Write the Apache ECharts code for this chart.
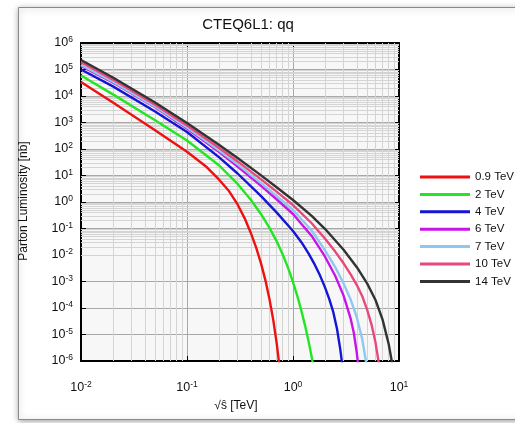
<!DOCTYPE html>
<html>
<head>
<meta charset="utf-8">
<script src="https://cdn.jsdelivr.net/npm/echarts@6/dist/echarts.min.js"></script>
<style>html,body{margin:0;padding:0;background:#fff}#c{width:515px;height:423px}</style>
</head>
<body>
<div id="c"></div>
<script>
// ---- data ----
const seriesNames = ['0.9 TeV', '2 TeV', '4 TeV', '6 TeV', '7 TeV', '10 TeV', '14 TeV'];
const seriesColors = ['#ee1111', '#22e622', '#1515d5', '#c814e6', '#8ec8f0', '#e8487a', '#333333'];

const x09 = [0.01, 0.02, 0.05, 0.1, 0.15, 0.2, 0.25, 0.3, 0.35, 0.4, 0.45, 0.5, 0.55, 0.6, 0.65, 0.7, 0.75];
const y09 = [3.39e4, 5.66e3, 513, 78.9, 22.4, 7.1, 2.54, 0.807, 0.242, 0.068, 0.0186, 4.73e-3, 1.08e-3, 2.16e-4, 3.7e-5, 5.0e-6, 5.1e-7];

const x2 = [0.01, 0.02, 0.05, 0.1, 0.2, 0.3, 0.4, 0.5, 0.6, 0.7, 0.8, 0.9, 1.0, 1.1, 1.2, 1.3, 1.4, 1.5, 1.6];
const y2 = [5.96e4, 1.15e4, 1.22e3, 208, 24.4, 4.82, 1.21, 0.347, 0.106, 0.0334, 0.01045, 3.21e-3, 9.5e-4, 2.77e-4, 7.8e-5, 2.17e-5, 5.7e-6, 1.44e-6, 3.3e-7];

const x4 = [0.01, 0.02, 0.05, 0.1, 0.2, 0.3, 0.5, 0.7, 1, 1.2, 1.4, 1.6, 1.8, 2.0, 2.2, 2.4, 2.6, 2.8, 3.0];
const y4 = [1.0e5, 2.31e4, 2.6e3, 437, 49.2, 11.9, 1.66, 0.405, 0.08, 0.0304, 0.0115, 4.4e-3, 1.67e-3, 6.15e-4, 2.16e-4, 6.97e-5, 1.65e-5, 2.58e-6, 2.83e-7];

const x6 = [0.01, 0.02, 0.05, 0.1, 0.2, 0.3, 0.5, 0.7, 1, 1.5, 2, 2.5, 3, 3.5, 3.75, 4, 4.2];
const y6 = [1.36e5, 3.27e4, 3.75e3, 592, 78, 21.9, 4.05, 1.27, 0.352, 0.0524, 8.8e-3, 1.65e-3, 2.93e-4, 3.94e-5, 1.14e-5, 2.0e-6, 3.6e-7];

const x7 = [0.01, 0.02, 0.05, 0.1, 0.2, 0.3, 0.5, 0.7, 1, 1.5, 2, 2.5, 3, 3.5, 4, 4.5, 5];
const y7 = [1.48e5, 3.46e4, 3.98e3, 646, 89.6, 26.2, 5.17, 1.69, 0.498, 0.0838, 0.0153, 3.5e-3, 8.5e-4, 2.06e-4, 4.4e-5, 6.7e-6, 5.3e-7];

const x10 = [0.01, 0.02, 0.05, 0.1, 0.2, 0.3, 0.5, 0.7, 1, 1.5, 2, 2.5, 3, 3.5, 4, 4.5, 5, 5.5, 6, 6.5];
const y10 = [1.875e5, 4.16e4, 4.67e3, 769, 111, 34, 7.13, 2.46, 0.767, 0.158, 0.042, 0.01346, 4.86e-3, 1.87e-3, 7.35e-4, 2.79e-4, 8.75e-5, 2.42e-5, 5.05e-6, 6.8e-7];

const x14 = [0.01, 0.02, 0.05, 0.1, 0.2, 0.3, 0.5, 0.7, 1, 1.5, 2, 3, 4, 5, 6, 7, 8, 8.5, 9];
const y14 = [2.29e5, 5.0e4, 5.64e3, 955, 145, 45.6, 10.1, 3.62, 1.19, 0.299, 0.0977, 0.0158, 3.47e-3, 8.5e-4, 2.0e-4, 3.63e-5, 4.27e-6, 1.12e-6, 2.0e-7];

const seriesX = [x09, x2, x4, x6, x7, x10, x14];
const seriesY = [y09, y2, y4, y6, y7, y10, y14];

// axis ranges / gridline positions
const xMin = 0.01, xMax = 10;
const yMin = 1e-6, yMax = 1e6;
const minorFactors = [2, 3, 4, 5, 6, 7, 8, 9];
const xDecades = [-2, -1, 0];
const yDecades = [-6, -5, -4, -3, -2, -1, 0, 1, 2, 3, 4, 5];

const minorX = [];
xDecades.forEach(e => minorFactors.forEach(f => minorX.push(+(f * Math.pow(10, e)).toPrecision(3))));
const minorY = [];
yDecades.forEach(e => minorFactors.forEach(f => minorY.push(+(f * Math.pow(10, e)).toPrecision(3))));

// ---- chart ----
const chart = echarts.init(document.getElementById('c'), null, {renderer: 'canvas'});
const FONT = '"Liberation Sans", Arial, Helvetica, sans-serif';

function expLabel(v) {
  const e = Math.round(Math.log10(v));
  return '{b|10}{s|' + e + '}';
}
const rich = {
  b: {fontSize: 12.5, color: '#111', fontFamily: FONT, lineHeight: 15},
  s: {fontSize: 8.5, color: '#111', fontFamily: FONT, lineHeight: 9, verticalAlign: 'top'}
};

const axisCommonX = {
  type: 'log', logBase: 10, min: xMin, max: xMax, interval: 1,
  axisLine: {show: true, lineStyle: {color: '#000', width: 2}},
  axisTick: {show: true, inside: true, length: 5, lineStyle: {color: '#000', width: 1}}
};
const axisCommonY = {
  type: 'log', logBase: 10, min: yMin, max: yMax, interval: 1, splitNumber: 12,
  axisLine: {show: true, lineStyle: {color: '#000', width: 2}},
  axisTick: {show: true, inside: true, length: 5, lineStyle: {color: '#000', width: 1}}
};

const series = [{
  type: 'line', data: [], z: 1, silent: true,
  xAxisIndex: 0, yAxisIndex: 0,
  markLine: {
    silent: true, symbol: 'none', animation: false, z: 1,
    label: {show: false},
    lineStyle: {color: '#d4d4d4', width: 1, type: 'solid'},
    emphasis: {disabled: true},
    data: minorX.map(v => ({xAxis: v})).concat(minorY.map(v => ({yAxis: v})))
  }
}];
seriesNames.forEach((n, i) => {
  series.push({
    name: n, type: 'line', xAxisIndex: 0, yAxisIndex: 0,
    symbol: 'none', showSymbol: false, clip: true, z: 6,
    lineStyle: {color: seriesColors[i], width: 2.4, join: 'round'},
    itemStyle: {color: seriesColors[i]},
    data: seriesX[i].map((x, j) => [x, seriesY[i][j]])
  });
});

chart.setOption({
  animation: false,
  backgroundColor: '#fff',
  grid: {left: 81, top: 43, right: 116, bottom: 62, show: true, backgroundColor: '#f7f7f7', borderWidth: 0},
  xAxis: [
    Object.assign({}, axisCommonX, {
      position: 'bottom',
      splitLine: {show: true, lineStyle: {color: '#a8a8a8', width: 1}},
      axisLabel: {formatter: expLabel, rich: rich, margin: 19}
    }),
    Object.assign({}, axisCommonX, {
      position: 'top', axisLabel: {show: false}, splitLine: {show: false}
    })
  ],
  yAxis: [
    Object.assign({}, axisCommonY, {
      position: 'left',
      splitLine: {show: true, lineStyle: {color: '#a8a8a8', width: 1}},
      axisLabel: {formatter: expLabel, rich: rich, margin: 8}
    }),
    Object.assign({}, axisCommonY, {
      position: 'right', axisLabel: {show: false}, splitLine: {show: false}
    })
  ],
  legend: {
    data: seriesNames,
    orient: 'vertical', left: 415, top: 165,
    icon: 'rect',
    itemWidth: 50, itemHeight: 3, itemGap: 3.4,
    textStyle: {fontSize: 11.5, lineHeight: 14, color: '#111', fontFamily: FONT, padding: [0, 0, 0, 0]},
    selectedMode: false
  },
  graphic: {elements: [
    {type: 'rect', z: -100, silent: true,
     shape: {x: 18.5, y: 7.5, width: 530, height: 412},
     style: {fill: '#fff', stroke: '#8a8a8a', lineWidth: 1, shadowBlur: 6, shadowColor: 'rgba(0,0,0,0.35)', shadowOffsetY: 1}},
    {type: 'text', silent: true, x: 248, y: 25,
     style: {text: 'CTEQ6L1: qq', fontSize: 15, fontFamily: FONT, fill: '#111', align: 'center', verticalAlign: 'middle'}},
    {type: 'text', silent: true, x: 236, y: 406,
     style: {text: '√ŝ [TeV]', fontSize: 12, fontFamily: FONT, fill: '#111', align: 'center', verticalAlign: 'middle'}},
    {type: 'text', silent: true, x: 24, y: 201, rotation: Math.PI / 2,
     style: {text: 'Parton Luminosity [nb]', fontSize: 12, fontFamily: FONT, fill: '#111', align: 'center', verticalAlign: 'middle'}}
  ]},
  series: series
});
</script>
</body>
</html>
